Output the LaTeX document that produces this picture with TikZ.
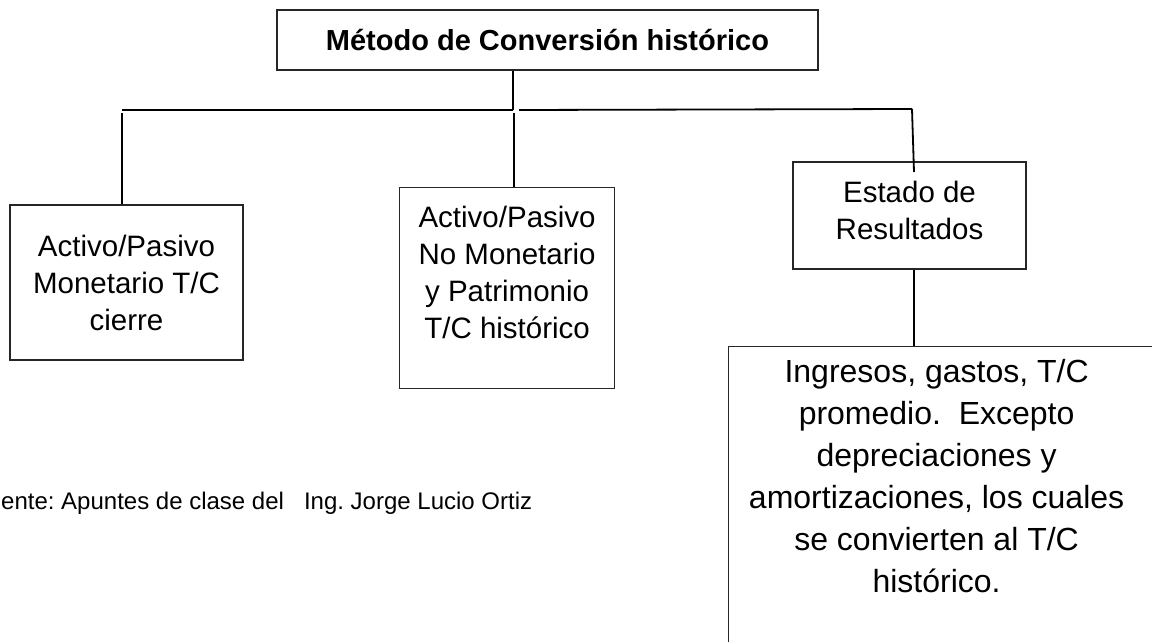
\documentclass[tikz,border=0pt]{standalone}
\usepackage{fontspec}
\setmainfont{Liberation Sans}
\frenchspacing
\begin{document}
\begin{tikzpicture}[x=1pt,y=-1pt,
  box/.style={draw=black!85, line width=1.2pt, inner sep=0pt, rectangle},
  conn/.style={draw=black, line width=1.8pt},
  txt/.style={align=center, inner sep=0pt, font=\fontsize{29.5}{37}\selectfont},
  bigtxt/.style={align=center, inner sep=0pt, font=\fontsize{32}{42}\selectfont},
]
\useasboundingbox (0,0) rectangle (1152,642);
\clip (0,0) rectangle (1152,642);
% boxes
\node[box, minimum width=541pt, minimum height=60pt, font=\fontsize{29}{35}\selectfont\bfseries] (title) at (547.5,40) {Método de Conversión histórico};
\node[box, txt, minimum width=233pt, minimum height=155pt] (box1) at (126.5,282.5) {Activo/Pasivo\\Monetario T/C\\cierre};
\node[box, minimum width=215pt, minimum height=201pt, anchor=north west] (box2) at (399,187) {};
\node[txt, anchor=north] (t2) at ([yshift=-19pt]box2.north) {Activo/Pasivo\\No Monetario\\y Patrimonio\\T/C histórico};
\node[box, minimum width=233pt, minimum height=107pt] (box3) at (909.5,215.5) {};
\node[txt, anchor=north] (t3) at ([yshift=-20pt]box3.north) {Estado de\\Resultados};
\node[box, minimum width=432pt, minimum height=320pt, anchor=north west] (box4) at (728,346) {};
\node[bigtxt, anchor=north] (t4) at ([xshift=-8pt,yshift=-13pt]box4.north) {Ingresos, gastos, T/C\\promedio.\ \ Excepto\\depreciaciones y\\amortizaciones, los cuales\\se convierten al T/C\\histórico.};
% footer
\node[anchor=base west, inner sep=0pt, font=\fontsize{24}{28}\selectfont] (src) at (1,509) {ente: Apuntes de clase del\ \ \ Ing. Jorge Lucio Ortiz};
% connectors
\coordinate (hL) at (122,110);
\coordinate (hC) at (513,110);
\coordinate (hR0) at (519,110);
\coordinate (hR) at (912,109);
\coordinate (vL) at (122,113);
\coordinate (vC) at (514,113);
\coordinate (r3) at (914,172);
\draw[conn] (title.south -| hC) -- (hC);
\draw[conn] (hL) -- (hC);
\draw[conn] (hR0) -- (hR);
\draw[conn] (vL) -- (vL |- box1.north);
\draw[conn] (vC) -- (vC |- box2.north);
\draw[conn] (hR) -- (r3);
\draw[conn] ([xshift=4.5pt]box3.south) -- ([xshift=4.5pt]box3.south |- box4.north);
\end{tikzpicture}
\end{document}
